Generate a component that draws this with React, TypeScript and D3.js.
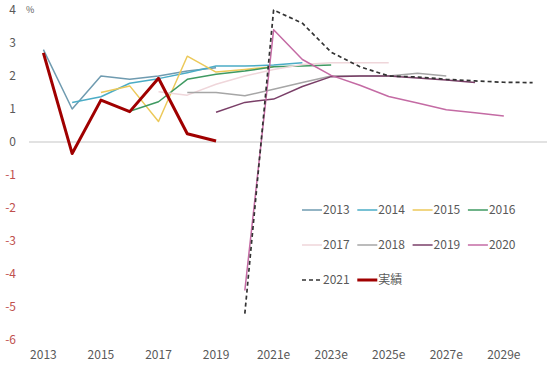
import React from 'react'
import * as d3 from 'd3'

// categories on the x axis
const years = ['2013', '2014', '2015', '2016', '2017', '2018', '2019', '2020',
  '2021e', '2022e', '2023e', '2024e', '2025e', '2026e', '2027e', '2028e', '2029e', '2030e']
const yTicks = [4, 3, 2, 1, 0, -1, -2, -3, -4, -5, -6]

// forecast vintages (values start at the year in the name)
const f2013 = [2.8, 1.0, 2.0, 1.9, 2.0, 2.15, 2.25]
const f2014 = [1.2, 1.37, 1.78, 1.92, 2.1, 2.3, 2.3, 2.33, 2.4]
const f2015 = [1.5, 1.7, 0.62, 2.6, 2.12, 2.2, 2.28]
const f2016 = [0.93, 1.22, 1.9, 2.05, 2.15, 2.28, 2.3, 2.33]
const f2017 = [1.52, 1.42, 1.75, 2.0, 2.2, 2.35, 2.4, 2.4, 2.4]
const f2018 = [1.5, 1.5, 1.4, 1.6, 1.8, 2.0, 2.0, 2.0, 2.08, 2.0]
const f2019 = [0.9, 1.2, 1.3, 1.68, 1.98, 2.0, 2.0, 1.94, 1.88, 1.8]
const f2020 = [-4.5, 3.4, 2.5, 2.02, 1.72, 1.38, 1.18, 0.98, 0.89, 0.79]
const f2021 = [-5.2, 4.0, 3.6, 2.72, 2.28, 2.0, 1.97, 1.9, 1.85, 1.81, 1.8]
const actual = [2.7, -0.35, 1.27, 0.92, 1.93, 0.25, 0.03]

const series = [
  { name: '2013', start: 0, values: f2013, color: '#6f9bb0', width: 1.5 },
  { name: '2014', start: 1, values: f2014, color: '#4bacc6', width: 1.5 },
  { name: '2015', start: 2, values: f2015, color: '#ecc95a', width: 1.5 },
  { name: '2016', start: 3, values: f2016, color: '#3f9a62', width: 1.5 },
  { name: '2017', start: 4, values: f2017, color: '#efd6da', width: 1.5 },
  { name: '2018', start: 5, values: f2018, color: '#a6a6a6', width: 1.5 },
  { name: '2019', start: 6, values: f2019, color: '#7a3f68', width: 1.5 },
  { name: '2020', start: 7, values: f2020, color: '#c46ba4', width: 1.5 },
  { name: '2021', start: 7, values: f2021, color: '#333333', width: 1.7, dash: '4,3' },
  { name: '実績', start: 0, values: actual, color: '#a00000', width: 3 },
]

const W = 550
const H = 366
const font = '"Noto Sans CJK JP", "Liberation Sans", sans-serif'

export default function App() {
  const x = d3.scaleBand().domain(years).range([29, 547])
  const cx = (c: string) => (x(c) as number) + x.bandwidth() / 2
  const y = d3.scaleLinear().domain([-6, 4]).range([340, 10])

  const line = d3.line<[string, number]>()
    .x(d => cx(d[0]))
    .y(d => y(d[1]))

  // legend layout
  const legendRows = [series.slice(0, 4), series.slice(4, 8), series.slice(8)]

  return (
    <svg width={W} height={H} style={{ position: 'absolute', left: 0, top: 0, background: '#fff' }}>
      {/* zero line */}
      <line x1={29} x2={547} y1={y(0)} y2={y(0)} stroke="#d9d9d9" strokeWidth={1.5} />

      {/* y tick labels */}
      {yTicks.map(t => (
        <text key={t} x={16} y={y(t)} dy="0.35em" textAnchor="end" fontSize={12}
          fontFamily={font} fill={t < 0 ? '#c0504d' : '#595959'}>
          {t < 0 ? '-' + Math.abs(t) : t}
        </text>
      ))}
      <text x={26} y={y(4)} dy="0.3em" fontSize={9} fontFamily={font} fill="#595959">%</text>

      {/* x tick labels */}
      {years.map((c, i) => (i % 2 === 0 && i < 17) ? (
        <text key={c} x={cx(c)} y={355} dy="0.35em" textAnchor="middle" fontSize={12}
          fontFamily={font} fill="#595959">{c}</text>
      ) : null)}

      {/* lines */}
      {series.map(s => {
        const pts: [string, number][] = s.values.map((v, i) => [years[s.start + i], v])
        return (
          <path key={s.name} d={line(pts) || ''} fill="none" stroke={s.color}
            strokeWidth={s.width} strokeDasharray={s.dash} strokeLinejoin="round" />
        )
      })}

      {/* legend */}
      {legendRows.map((row, r) => row.map((s, i) => {
        const lx = 302 + i * 55.3
        const ly = 210 + r * 35
        return (
          <g key={s.name}>
            <line x1={lx} x2={lx + 20} y1={ly} y2={ly} stroke={s.color}
              strokeWidth={s.width} strokeDasharray={s.dash} />
            <text x={lx + 21} y={ly} dy="0.35em" fontSize={12} fontFamily={font} fill="#595959">{s.name}</text>
          </g>
        )
      }))}
    </svg>
  )
}
